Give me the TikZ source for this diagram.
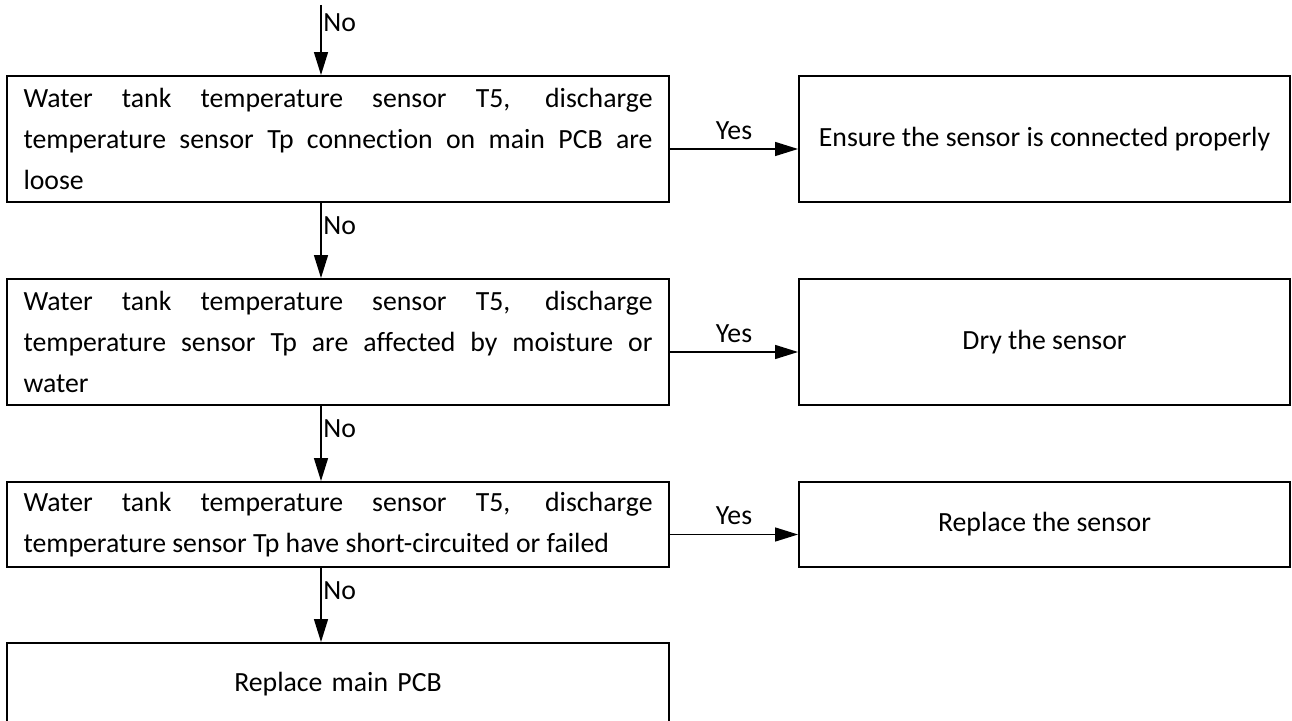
\documentclass[tikz,border=0pt]{standalone}
\usepackage{fontspec}
\setmainfont{Carlito}[Ligatures=NoCommon]
\usetikzlibrary{positioning,arrows.meta}

\begin{document}
\begin{tikzpicture}[
  box/.style={draw, rectangle, line width=1.1pt, minimum width=13.24cm, text width=12.58cm, inner xsep=0.33cm, inner ysep=2pt, align=justify, font=\fontsize{15.8pt}{23.3pt}\selectfont},
  rbox/.style={draw, rectangle, line width=1.1pt, minimum width=9.82cm, align=center, font=\fontsize{15.8pt}{23.3pt}\selectfont},
  arr/.style={-{Triangle[length=0.46cm, width=0.28cm]}, line width=0.8pt},
  lbl/.style={font=\fontsize{15.8pt}{18pt}\selectfont, inner sep=1pt},
]
  \useasboundingbox (0,0) rectangle (25.84,14.4);

  \node[box, minimum height=2.52cm] (loose) at (6.76,11.62) {Water tank temperature sensor T5, discharge\linebreak temperature sensor Tp connection on main PCB are\linebreak loose};
  \node[box, minimum height=2.52cm] (moist) at (6.76,7.56) {Water tank temperature sensor T5, discharge\linebreak temperature sensor Tp are affected by moisture or\linebreak water};
  \node[box, minimum height=1.70cm] (fail) at (6.76,3.91) {Water tank temperature sensor T5, discharge\linebreak temperature sensor Tp have short-circuited or failed};
  \node[box, minimum height=1.64cm, align=center] (pcb) at (6.76,0.72) {Replace main PCB};

  \node[rbox, minimum height=2.52cm] (connect) at (20.89,11.62) {Ensure the sensor is connected properly};
  \node[rbox, minimum height=2.52cm] (dry) at (20.89,7.56) {Dry the sensor};
  \node[rbox, minimum height=1.70cm] (replace) at (20.89,3.91) {Replace the sensor};

  \coordinate (col) at (6.42,14.3);

  \draw[arr] (col) -- node[lbl, pos=0.25, right] {No} (loose.north -| col);
  \draw[arr] (loose.south -| col) -- node[lbl, pos=0.3, right] {No} (moist.north -| col);
  \draw[arr] (moist.south -| col) -- node[lbl, pos=0.3, right] {No} (fail.north -| col);
  \draw[arr] (fail.south -| col) -- node[lbl, pos=0.3, right] {No} (pcb.north -| col);

  \draw[arr] ([yshift=-0.2cm]loose.east) -- node[lbl, above=4pt] {Yes} ([yshift=-0.2cm]loose.east -| connect.west);
  \draw[arr] ([yshift=-0.2cm]moist.east) -- node[lbl, above=4pt] {Yes} ([yshift=-0.2cm]moist.east -| dry.west);
  \draw[arr] ([yshift=-0.2cm]fail.east) -- node[lbl, above=4pt] {Yes} ([yshift=-0.2cm]fail.east -| replace.west);
\end{tikzpicture}
\end{document}
